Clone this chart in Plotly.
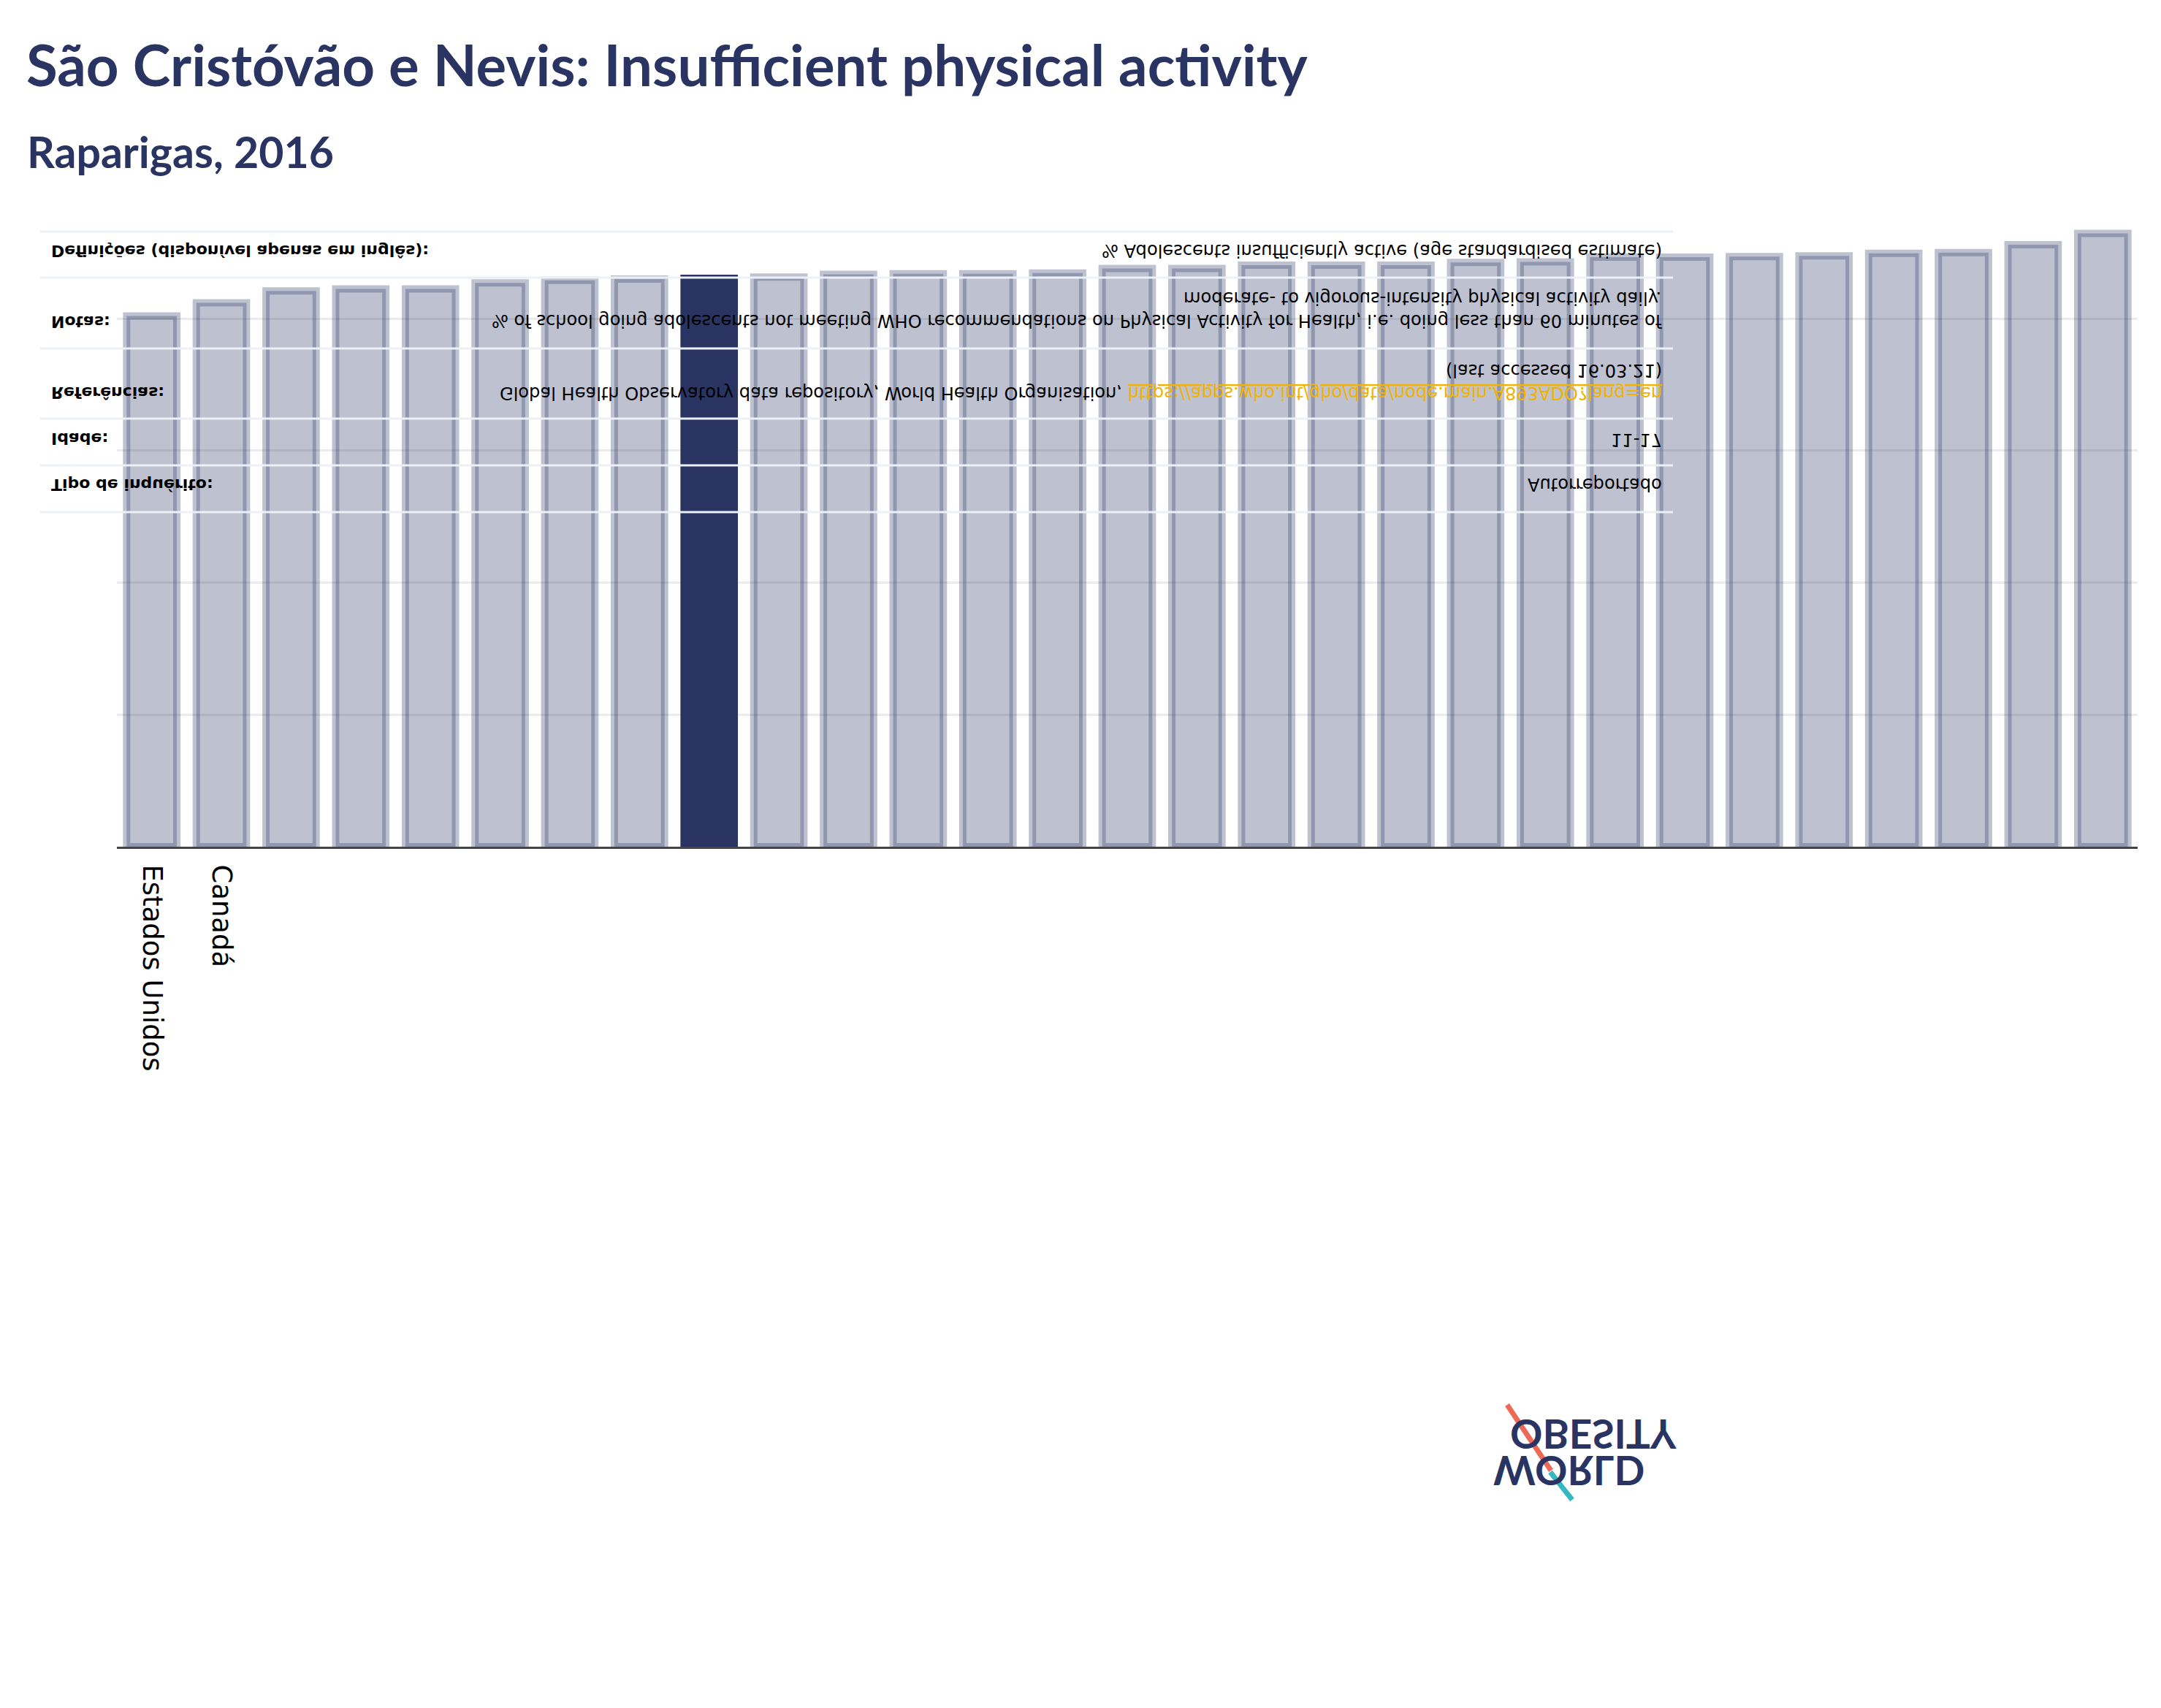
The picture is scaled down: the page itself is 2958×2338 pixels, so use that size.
import json
import plotly.graph_objects as go

# ---------------- data ----------------
tick_labels = ["Estados Unidos", "Canadá"] + [""] * 27
values = [80.4, 82.4, 84.2, 84.5, 84.5, 85.4, 85.8, 86.0, 86.1, 86.3,
          86.7, 86.8, 86.8, 86.9, 87.6, 87.6, 88.1, 88.1, 88.1, 88.5,
          88.6, 89.3, 89.3, 89.4, 89.5, 89.9, 90.0, 91.2, 92.9]
highlight_index = 8  # São Cristóvão e Nevis

title_text = "São Cristóvão e Nevis: Insufficient physical activity"
subtitle_text = "Raparigas, 2016"

table_labels = ["Definições (disponível apenas em inglês):", "Notas:",
                "Referências:", "Idade:", "Tipo de inquérito:"]
link_url = "https://apps.who.int/gho/data/node.main.A893ADO?lang=en"
table_values = [
    "% Adolescents insufficiently active (age standardised estimate)",
    "% of school going adolescents not meeting WHO recommendations on Physical Activity for Health, i.e. doing less than 60 minutes of"
    "<br>moderate- to vigorous-intensity physical activity daily.",
    "Global Health Observatory data repository, World Health Organisation, "
    "<a href='" + link_url + "'><span style='color:#F2B200;text-decoration:underline'>" + link_url + "</span></a>"
    "<br>(last accessed 16.03.21)",
    "11-17",
    "Autorreportado",
]

NAVY = "#293462"
LIGHT = "rgba(41,52,98,0.3)"

# ---------------- layout geometry (pixels) ----------------
W, H = 2958, 2338
L, R, T, B = 160, 2926, 278, 1159


def px(x):
    return (x - L) / (R - L)


def py(y):
    return (B - y) / (B - T)


positions = list(range(len(values)))
colors = [NAVY if i == highlight_index else LIGHT for i in positions]

fig = go.Figure()
fig.add_trace(go.Bar(
    x=positions, y=values,
    marker=dict(color=colors, line=dict(color=colors, width=10)),
    hoverinfo="skip", showlegend=False,
))

annotations = []
flip_idx = []

annotations.append(dict(text="<b>" + title_text + "</b>", x=px(34), y=py(88),
                        xref="paper", yref="paper", xanchor="left", yanchor="middle",
                        showarrow=False, font=dict(family="Lato", size=78, color=NAVY)))
annotations.append(dict(text="<b>" + subtitle_text + "</b>", x=px(35), y=py(207),
                        xref="paper", yref="paper", xanchor="left", yanchor="middle",
                        showarrow=False, font=dict(family="Lato", size=59, color=NAVY)))

label_y = [343, 440, 537, 600, 663]
value_y = [343, 423.5, 522, 602, 663]
for lab, ly in zip(table_labels, label_y):
    flip_idx.append(len(annotations))
    annotations.append(dict(text="<b>" + lab + "</b>", x=px(68), y=py(ly),
                            xref="paper", yref="paper", xanchor="left", yanchor="middle",
                            align="left", showarrow=False,
                            font=dict(family="DejaVu Sans", size=22, color="#000000")))
for val, vy in zip(table_values, value_y):
    flip_idx.append(len(annotations))
    annotations.append(dict(text=val, x=px(2277), y=py(vy),
                            xref="paper", yref="paper", xanchor="right", yanchor="middle",
                            align="right", showarrow=False,
                            font=dict(family="DejaVu Sans", size=24.1, color="#000000")))

# logo (rendered flipped like the reference)
for word, cx, cy in [("OBESITY", 2181, 1964), ("WORLD", 2147, 2014)]:
    flip_idx.append(len(annotations))
    annotations.append(dict(text="<b>" + word + "</b>", x=px(cx), y=py(cy),
                            xref="paper", yref="paper", xanchor="center", yanchor="middle",
                            showarrow=False, font=dict(family="Lato", size=55, color=NAVY)))

shapes = []
for ly in [317, 380, 477, 573, 637, 701]:
    shapes.append(dict(type="line", xref="paper", yref="paper", x0=px(55), x1=px(2290),
                       y0=py(ly), y1=py(ly), layer="above",
                       line=dict(color="#ECF0F7", width=3)))
shapes.append(dict(type="line", xref="paper", yref="paper", x0=px(2063), y0=py(1923),
                   x1=px(2123), y1=py(2013), layer="above", line=dict(color="#EF6A56", width=7)))
shapes.append(dict(type="line", xref="paper", yref="paper", x0=px(2122), y0=py(2015),
                   x1=px(2152), y1=py(2053), layer="above", line=dict(color="#35B8BE", width=7)))

fig.update_layout(
    width=W, height=H,
    margin=dict(l=L, r=W - R, t=T, b=H - B, pad=0),
    paper_bgcolor="white", plot_bgcolor="white",
    bargap=0.28,
    annotations=annotations, shapes=shapes,
    xaxis=dict(tickmode="array", tickvals=positions, ticktext=tick_labels,
               tickangle=90, range=[-0.5, len(values) - 0.5],
               showline=True, linecolor="#444444", linewidth=3, layer="above traces",
               showgrid=False, zeroline=False, ticks="", ticklabelstandoff=14,
               tickfont=dict(family="DejaVu Sans", size=37, color="#000000")),
    yaxis=dict(range=[0, 97.5], dtick=20, showticklabels=False, showgrid=True,
               gridcolor="rgba(0,0,0,0.08)", gridwidth=3, zeroline=False, showline=False),
)

post = """
document.body.style.margin = '0';
var gd = document.getElementById('{plot_id}');
var FLIP = %s;
function flipTexts(){
  var anns = gd.querySelectorAll('g.annotation');
  anns.forEach(function(g){
    var idx = +g.getAttribute('data-index');
    if (FLIP.indexOf(idx) < 0) return;
    var t = g.querySelector('text.annotation-text');
    if (!t || t.getAttribute('data-flipped')) return;
    var bb = t.getBBox();
    var cy = bb.y + bb.height / 2;
    t.setAttribute('transform', 'matrix(1,0,0,-1,0,' + (2 * cy) + ')');
    t.setAttribute('data-flipped', '1');
  });
}
flipTexts();
gd.on('plotly_afterplot', flipTexts);
""" % json.dumps(flip_idx)

fig.write_html("out.html", config={"displayModeBar": False}, post_script=post)
